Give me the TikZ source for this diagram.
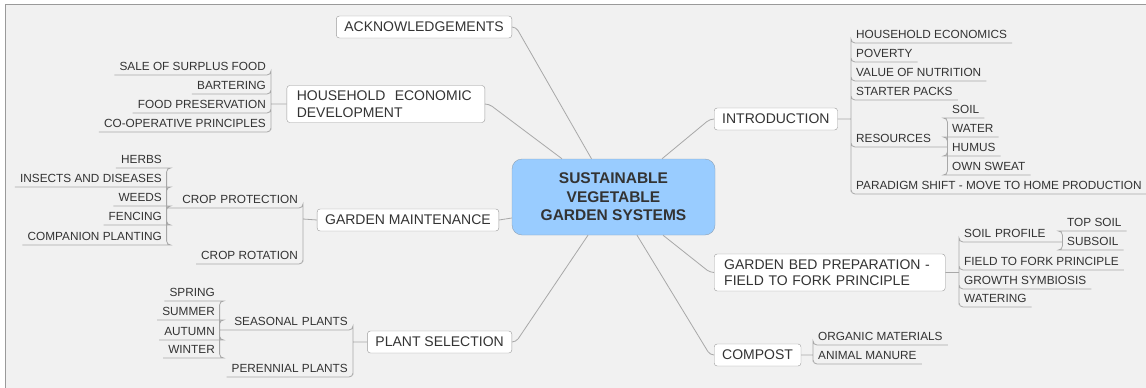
\documentclass[tikz,border=0pt]{standalone}
\usepackage{fontspec}
\setmainfont{Liberation Sans}
\usetikzlibrary{positioning}

\definecolor{mapback}{HTML}{F1F1F1}
\definecolor{mapframe}{HTML}{9A9A9A}
\definecolor{mapline}{HTML}{A8A8A8}
\definecolor{maptext}{HTML}{333333}
\definecolor{rootfill}{HTML}{99CCFF}
\definecolor{rootdraw}{HTML}{8EA2B6}

\tikzset{
  root/.style={draw=rootdraw, fill=rootfill, rounded corners=10pt, text=maptext, font=\fontsize{15.5}{18.5}\selectfont\bfseries, align=center, minimum width=203pt, minimum height=76pt},
  topic/.style={draw=mapframe, fill=white, rounded corners=3pt, text=maptext, font=\fontsize{14}{16.5}\selectfont, inner xsep=8pt, minimum height=22pt},
  leafr/.style={anchor=south west, text=maptext, font=\fontsize{11.8}{13}\selectfont, inner xsep=5pt, inner ysep=4.5pt},
  leafl/.style={leafr, anchor=south east},
  twig/.style={draw=mapline, line width=0.8pt, rounded corners=4pt},
}

\begin{document}
\begin{tikzpicture}[x=1pt, y=-1pt]
			\useasboundingbox (0,0) rectangle (1146,388);
			\fill[mapback] (5,4) rectangle (1150,392);
			\draw[mapframe] (5,392) -- (5,4) -- (1150,4);

			% main topics
			\node[root] (sys) at (613.5,197) {SUSTAINABLE\\VEGETABLE\\GARDEN SYSTEMS};
			\node[topic, anchor=east] (ack) at (512,27) {ACKNOWLEDGEMENTS};
			\node[topic, anchor=east, text width=178pt, align=left, inner xsep=10pt, minimum height=37pt] (hh) at (485,104) {HOUSEHOLD\ \ ECONOMIC\\DEVELOPMENT};
			\node[topic, anchor=west] (intro) at (714,119) {INTRODUCTION};
			\node[topic, anchor=east] (maint) at (499,220) {GARDEN MAINTENANCE};
			\node[topic, anchor=west, text width=211pt, align=left, inner xsep=10pt, minimum height=37pt] (bed) at (714,272.5) {GARDEN BED PREPARATION -\\FIELD TO FORK PRINCIPLE};
			\node[topic, anchor=west] (compost) at (714,355) {COMPOST};
			\node[topic, anchor=east] (plant) at (512,342) {PLANT SELECTION};

			% spines
			\coordinate (introJ) at (851,119);
			\coordinate (bedJ) at (959,272.5);
			\coordinate (compJ) at (813,355);
			\coordinate (hhJ) at (271,104);
			\coordinate (maintJ) at (303,219);
			\coordinate (plantJ) at (353,342);

			% introduction
			\node[leafr] (hecon) at (851,43) {HOUSEHOLD ECONOMICS};
			\node[leafr] (pov) at (851,62) {POVERTY};
			\node[leafr] (valn) at (851,81) {VALUE OF NUTRITION};
			\node[leafr] (start) at (851,100) {STARTER PACKS};
			\node[leafr, text width=86pt, align=left] (res) at (851,147) {RESOURCES};
			\node[leafr] (para) at (851,194) {PARADIGM SHIFT - MOVE TO HOME PRODUCTION};
			\node[leafr] (soil) at (947,118) {SOIL};
			\node[leafr] (water) at (947,137) {WATER};
			\node[leafr] (humus) at (947,156) {HUMUS};
			\node[leafr] (sweat) at (947,175) {OWN SWEAT};

			% garden bed
			\node[leafr, text width=93pt, align=left] (sprof) at (959,242) {SOIL PROFILE};
			\node[leafr] (f2f) at (959,270) {FIELD TO FORK PRINCIPLE};
			\node[leafr] (grow) at (959,289) {GROWTH SYMBIOSIS};
			\node[leafr] (watering) at (959,307) {WATERING};
			\node[leafr] (tops) at (1062,231) {TOP SOIL};
			\node[leafr] (subs) at (1062,250) {SUBSOIL};

			% compost
			\node[leafr] (org) at (813,345) {ORGANIC MATERIALS};
			\node[leafr] (manure) at (813,364) {ANIMAL MANURE};

			% household
			\node[leafl] (sale) at (271,75) {SALE OF SURPLUS FOOD};
			\node[leafl] (bart) at (271,94) {BARTERING};
			\node[leafl] (fpres) at (271,113) {FOOD PRESERVATION};
			\node[leafl] (coop) at (271,132) {CO-OPERATIVE PRINCIPLES};

			% maintenance
			\node[leafl, text width=126pt, align=right] (cprot) at (303,208) {CROP PROTECTION};
			\node[leafl] (crot) at (303,264) {CROP ROTATION};
			\node[leafl] (herbs) at (167,168) {HERBS};
			\node[leafl] (insects) at (167,187) {INSECTS AND DISEASES};
			\node[leafl] (weeds) at (167,206) {WEEDS};
			\node[leafl] (fence) at (167,225) {FENCING};
			\node[leafl] (compl) at (167,245) {COMPANION PLANTING};

			% plant selection
			\node[leafl, text width=123pt, align=right] (seas) at (353,330) {SEASONAL PLANTS};
			\node[leafl] (peren) at (353,377) {PERENNIAL PLANTS};
			\node[leafl] (spring) at (220,301) {SPRING};
			\node[leafl] (summer) at (220,320) {SUMMER};
			\node[leafl] (autumn) at (220,340) {AUTUMN};
			\node[leafl] (winter) at (220,358) {WINTER};

			\path[twig]
			(ack.east) -- ++(4,0) -- ([xshift=-22pt]sys.north)
			(hh.east) -- ++(4,0) -- ([xshift=-51.5pt]sys.north)
			(intro.west) -- ++(-4,0) -- ([xshift=48.5pt]sys.north)
			(maint.east) -- ([yshift=-21pt]sys.west)
			(plant.east) -- ++(4,0) -- ([xshift=-25.5pt]sys.south)
			(compost.west) -- ++(-4,0) -- ([xshift=23.5pt]sys.south)
			(bed.west) -- ++(-4,0) -- ([xshift=49.5pt]sys.south);

			\path[twig]
			(intro.east) -- (introJ)
			(introJ) |- (hecon.south west) -- (hecon.south east)
			(introJ) |- (pov.south west) -- (pov.south east)
			(introJ) |- (valn.south west) -- (valn.south east)
			(introJ) |- (start.south west) -- (start.south east)
			(introJ) |- (res.south west) -- (res.south east)
			(introJ) |- (para.south west) -- (para.south east)
			(res.south east) |- (soil.south west) -- (soil.south east)
			(res.south east) |- (water.south west) -- (water.south east)
			(res.south east) |- (humus.south west) -- (humus.south east)
			(res.south east) |- (sweat.south west) -- (sweat.south east);

			\path[twig]
			(bed.east) -- (bedJ)
			(bedJ) |- (sprof.south west) -- (sprof.south east)
			(bedJ) |- (f2f.south west) -- (f2f.south east)
			(bedJ) |- (grow.south west) -- (grow.south east)
			(bedJ) |- (watering.south west) -- (watering.south east)
			(sprof.south east) |- (tops.south west) -- (tops.south east)
			(sprof.south east) |- (subs.south west) -- (subs.south east)
			(compost.east) -- (compJ)
			(compJ) |- (org.south west) -- (org.south east)
			(compJ) |- (manure.south west) -- (manure.south east);

			\path[twig]
			(hh.west) -- (hhJ)
			(hhJ) |- (sale.south east) -- (sale.south west)
			(hhJ) |- (bart.south east) -- (bart.south west)
			(hhJ) |- (fpres.south east) -- (fpres.south west)
			(hhJ) |- (coop.south east) -- (coop.south west)
			(maint.west) -- (maintJ)
			(maintJ) |- (cprot.south east) -- (cprot.south west)
			(maintJ) |- (crot.south east) -- (crot.south west)
			(cprot.south west) |- (herbs.south east) -- (herbs.south west)
			(cprot.south west) |- (insects.south east) -- (insects.south west)
			(cprot.south west) |- (weeds.south east) -- (weeds.south west)
			(cprot.south west) |- (fence.south east) -- (fence.south west)
			(cprot.south west) |- (compl.south east) -- (compl.south west)
			(plant.west) -- (plantJ)
			(plantJ) |- (seas.south east) -- (seas.south west)
			(plantJ) |- (peren.south east) -- (peren.south west)
			(seas.south west) |- (spring.south east) -- (spring.south west)
			(seas.south west) |- (summer.south east) -- (summer.south west)
			(seas.south west) |- (autumn.south east) -- (autumn.south west)
			(seas.south west) |- (winter.south east) -- (winter.south west);
		\end{tikzpicture}
\end{document}
